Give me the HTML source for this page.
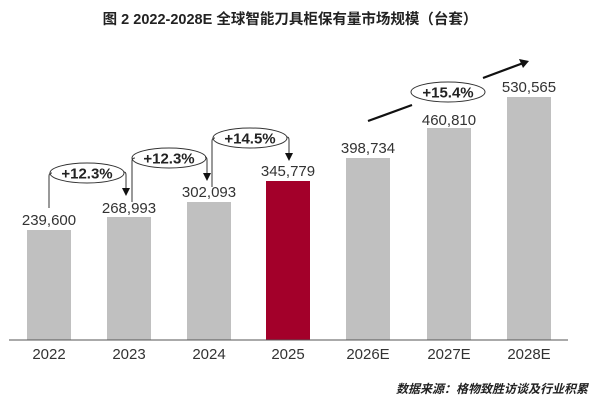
<!DOCTYPE html>
<html><head><meta charset="utf-8"><style>
body{margin:0;background:#fff;}
svg{display:block;}
</style></head><body>
<svg width="600" height="405" xmlns="http://www.w3.org/2000/svg" font-family="'Liberation Sans','Noto Sans CJK SC',sans-serif">
<text x="290" y="24" text-anchor="middle" font-size="14.5" font-weight="bold" fill="#222">图 2 2022-2028E 全球智能刀具柜保有量市场规模（台套）</text>
<g fill="#c0c0c0">
<rect x="27" y="230" width="44" height="110"/>
<rect x="107" y="217" width="44" height="123"/>
<rect x="187" y="202" width="44" height="138"/>
<rect x="266" y="181" width="44" height="159" fill="#a3002a"/>
<rect x="346" y="158" width="44" height="182"/>
<rect x="427" y="128" width="44" height="212"/>
<rect x="507" y="97" width="44" height="243"/>
</g>
<line x1="9" y1="340" x2="568" y2="340" stroke="#555" stroke-width="1"/>
<g font-size="15" fill="#333" text-anchor="middle">
<text x="49" y="225">239,600</text>
<text x="129" y="213">268,993</text>
<text x="209" y="197">302,093</text>
<text x="288" y="176">345,779</text>
<text x="368" y="153">398,734</text>
<text x="449" y="125">460,810</text>
<text x="529" y="92">530,565</text>
<text x="49" y="359">2022</text>
<text x="129" y="359">2023</text>
<text x="209" y="359">2024</text>
<text x="288" y="359">2025</text>
<text x="368" y="359">2026E</text>
<text x="449" y="359">2027E</text>
<text x="529" y="359">2028E</text>
</g>
<g stroke="#333" stroke-width="1" fill="none">
<ellipse cx="87" cy="173" rx="37" ry="10"/>
<path d="M49 208 V176 Q49 173 52 173"/>
<path d="M124 172 Q126 172 126 175 V189"/>
<ellipse cx="169" cy="158" rx="37" ry="10"/>
<path d="M132 202 V161 Q132 158 135 158"/>
<path d="M205 157 Q207 157 207 160 V174"/>
<ellipse cx="250" cy="138" rx="37" ry="10"/>
<path d="M212 187 V141 Q212 138 215 138"/>
<path d="M287 137 Q289 137 289 140 V154"/>
<ellipse cx="448" cy="92" rx="37" ry="10" fill="#fff"/>
</g>
<g fill="#111">
<polygon points="122,188 130,188 126,196"/>
<polygon points="203,173 211,173 207,181"/>
<polygon points="285,153 293,153 289,161"/>
</g>
<line x1="368" y1="121" x2="412" y2="105" stroke="#111" stroke-width="2.2"/>
<line x1="483" y1="78" x2="522" y2="63.5" stroke="#111" stroke-width="2.2"/>
<polygon points="529,61 519,59 523,68" fill="#111"/>
<g font-size="15" font-weight="bold" fill="#222" text-anchor="middle">
<text x="87" y="178.5">+12.3%</text>
<text x="169" y="163.5">+12.3%</text>
<text x="250" y="143.5">+14.5%</text>
<text x="448" y="97.5">+15.4%</text>
</g>
<text x="588" y="393" text-anchor="end" font-size="12" font-weight="bold" font-style="italic" fill="#222">数据来源：格物致胜访谈及行业积累</text>
</svg>
</body></html>
